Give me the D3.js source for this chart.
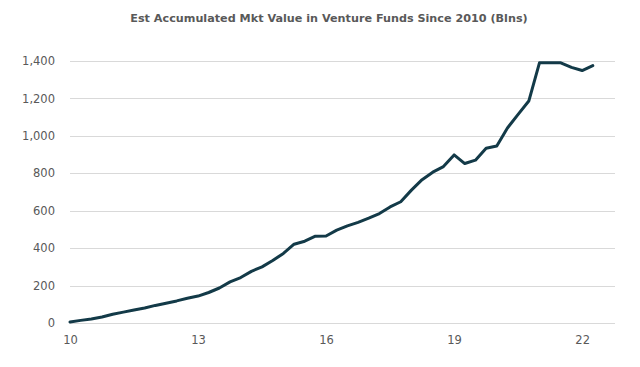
<!DOCTYPE html>
<html>
<head>
<meta charset="utf-8">
<script src="https://cdn.jsdelivr.net/npm/d3@7"></script>
<style>
  html, body { margin: 0; padding: 0; background: #ffffff; }
  svg { display: block; }
</style>
</head>
<body>
<svg id="chart" width="640" height="367"></svg>
<script>
// Quarterly values, 2010 Q1 .. 2022 Q2 (billions)
const quarters = d3.range(50).map(i => 10 + i / 4);
const values = [
  5, 14, 21, 32, 47, 58, 69, 80, 94, 106,
  118, 132, 144, 163, 187, 220, 243, 276, 300, 334,
  372, 421, 437, 464, 465, 496, 519, 538, 560, 585,
  620, 648, 710, 766, 806, 836, 898, 852, 870, 934,
  946, 1042, 1115, 1186, 1390, 1390, 1390, 1366, 1349, 1375
];
const yTicks = [0, 200, 400, 600, 800, 1000, 1200, 1400];
const xTicks = [10, 13, 16, 19, 22];
const title = "Est Accumulated Mkt Value in Venture Funds Since 2010 (Blns)";

const svg = d3.select("#chart");
const x = d3.scaleLinear().domain([10, 22.77]).range([70, 615]);
const y = d3.scaleLinear().domain([0, 1400]).range([323, 61]);

const font = "Verdana, 'DejaVu Sans', sans-serif";

// Gridlines
svg.append("g")
  .selectAll("line")
  .data(yTicks)
  .join("line")
  .attr("x1", x.range()[0])
  .attr("x2", x.range()[1])
  .attr("y1", d => Math.round(y(d)) + 0.5)
  .attr("y2", d => Math.round(y(d)) + 0.5)
  .attr("stroke", "#d9d9d9")
  .attr("stroke-width", 1);

// Y axis labels
const yAxis = svg.append("g")
  .attr("transform", "translate(55,0)")
  .call(d3.axisLeft(y).tickValues(yTicks).tickSize(0).tickPadding(0).tickFormat(d3.format(",")));
yAxis.select(".domain").remove();
yAxis.selectAll("text")
  .attr("font-family", font)
  .attr("font-size", "11.5px")
  .attr("fill", "#595959");

// X axis labels
const xAxis = svg.append("g")
  .attr("transform", "translate(0,336)")
  .call(d3.axisBottom(x).tickValues(xTicks).tickSize(0).tickPadding(0).tickFormat(d3.format("d")));
xAxis.select(".domain").remove();
xAxis.selectAll("text")
  .attr("font-family", font)
  .attr("font-size", "11.5px")
  .attr("fill", "#595959");

// Line
const line = d3.line()
  .x((d, i) => x(quarters[i]))
  .y(d => y(d));
svg.append("path")
  .datum(values)
  .attr("d", line)
  .attr("fill", "none")
  .attr("stroke", "#133a48")
  .attr("stroke-width", 3)
  .attr("stroke-linejoin", "round")
  .attr("stroke-linecap", "round");

// Title
svg.append("text")
  .attr("x", 329)
  .attr("y", 22)
  .attr("text-anchor", "middle")
  .attr("font-family", font)
  .attr("font-weight", "bold")
  .attr("font-size", "11.2px")
  .attr("fill", "#595959")
  .text(title);
</script>
</body>
</html>
